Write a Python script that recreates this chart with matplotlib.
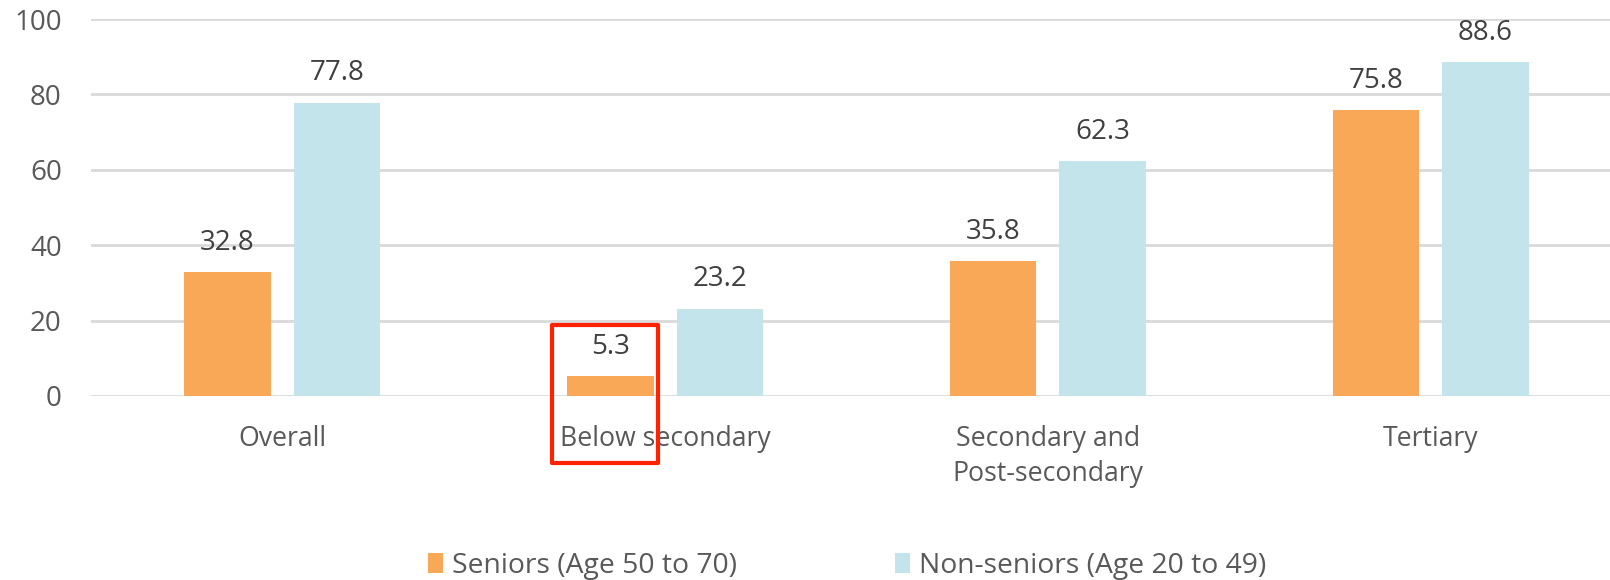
import matplotlib.pyplot as plt
import numpy as np
from matplotlib.patches import Rectangle

plt.rcParams['font.family'] = ['Open Sans', 'DejaVu Sans']

categories = ['Overall', 'Below secondary', 'Secondary and\nPost-secondary', 'Tertiary']
seniors = [32.8, 5.3, 35.8, 75.8]
non_seniors = [77.8, 23.2, 62.3, 88.6]
series_labels = ['Seniors (Age 50 to 70)', 'Non-seniors (Age 20 to 49)']
yticks = [0, 20, 40, 60, 80, 100]

orange = '#F9A857'
blue = '#C4E4EC'
text_grey = '#595959'
label_dark = '#404040'

x = np.arange(len(categories))
width = 0.226
off = 0.143

fig = plt.figure(figsize=(16.1, 5.8), dpi=100)
# plot area runs slightly past the right edge, like the cropped original
ax = fig.add_axes([91 / 1610, 1 - 396 / 580, 1531 / 1610, 377 / 580])

b1 = ax.bar(x - off, seniors, width, color=orange, label=series_labels[0], zorder=3)
b2 = ax.bar(x + off, non_seniors, width, color=blue, label=series_labels[1], zorder=3)

for bars, vals in ((b1, seniors), (b2, non_seniors)):
    for rect, v in zip(bars, vals):
        ax.annotate(f'{v:.1f}', (rect.get_x() + rect.get_width() / 2, v),
                    xytext=(0, 11), textcoords='offset points',
                    ha='center', va='bottom', fontsize=20, color=label_dark)

ax.set_xlim(-0.5, len(categories) - 0.5)
ax.set_ylim(0, 100)
ax.set_yticks(yticks)
ax.set_xticks(x)
ax.set_xticklabels(categories, fontsize=19.2, color=text_grey, linespacing=1.32)
ax.tick_params(axis='y', length=0, pad=21, labelsize=20, labelcolor=text_grey)
ax.tick_params(axis='x', length=0, pad=21)
ax.grid(axis='y', color='#D9D9D9', linewidth=2, zorder=0)
ax.set_axisbelow(True)
for s in ax.spines.values():
    s.set_visible(False)

# red highlight box around the "Below secondary" seniors bar
ax.add_patch(Rectangle((0.705, -17.8), 0.277, 36.7, fill=False, edgecolor='#FF2200',
                       linewidth=3, clip_on=False, zorder=5, joinstyle='round'))

fig.legend(loc='center', bbox_to_anchor=(847 / 1610, 1 - 566 / 580), ncol=2,
           frameon=False, fontsize=20.3, labelcolor=text_grey,
           handlelength=0.55, handleheight=0.7, handletextpad=0.3,
           columnspacing=5.6)

plt.savefig('out.png', dpi=100)
